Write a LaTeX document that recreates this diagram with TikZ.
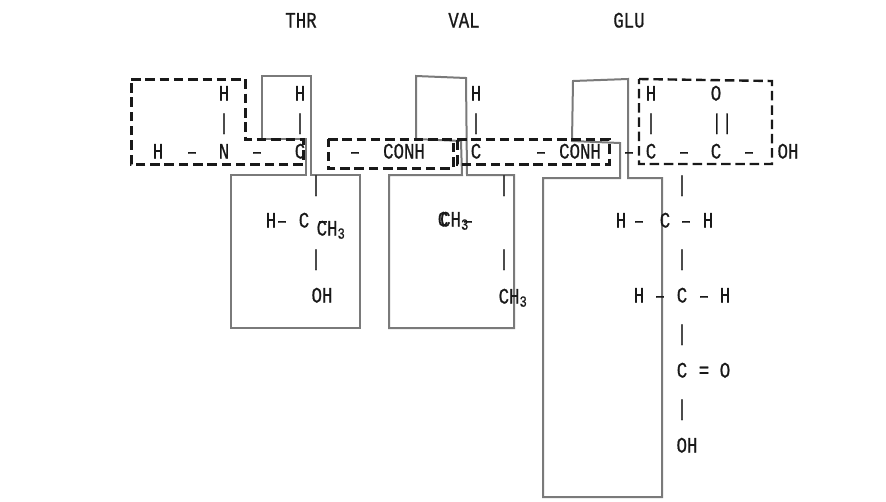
\documentclass[tikz,border=0pt]{standalone}
\usepackage{fontspec}
\setmainfont[FakeStretch=0.79,FakeBold=0.7]{Liberation Mono}
\tikzset{
  outline/.style={draw=black!52,line width=2pt,line join=miter},
  dashbox/.style={draw=black!90,line width=2.4pt,dash pattern=on 9.5pt off 4.8pt},
  lbl/.style={anchor=base,inner sep=0pt,outer sep=0pt,yshift=-7.5pt,font=\fontsize{22}{24}\selectfont,text=black!90}
}
\newcommand{\lab}[4]{\node[lbl] (#1) at (#2,#3) {#4};}
\begin{document}
\begin{tikzpicture}[x=1pt,y=-1pt]
\useasboundingbox (0,0) rectangle (886,501);
\fill[white] (0,0) rectangle (886,501);
% grey residue outlines
\draw[outline] (231,175) -- (306,175) -- (306,139) -- (262,139) -- (262,76) -- (311,76) -- (311,175) -- (360,175) -- (360,328) -- (231,328) -- cycle;
\draw[outline] (389,175) -- (462,175) -- (461,141) -- (416,139) -- (416,76) -- (466,78) -- (467,175) -- (514,175) -- (514,328) -- (389,328) -- cycle;
\draw[outline] (543,178) -- (620,178) -- (620,143) -- (572,141) -- (573,81) -- (628,79) -- (628,178) -- (662,178) -- (662,497) -- (543,497) -- cycle;
% dashed boxes
\draw[dashbox,line width=3pt] (131,79) -- (245,79) -- (245,139) -- (303,139) -- (303,164) -- (131,164) -- cycle;
\draw[dashbox,line width=3pt] (328,139) -- (453,139) -- (453,168) -- (328,168) -- cycle;
\draw[dashbox,line width=3pt] (457,139) -- (609,139) -- (609,164) -- (457,164) -- cycle;
\draw[dashbox] (639,79) -- (772,81) -- (772,164) -- (639,164) -- cycle;
% titles
\lab{thr}{301}{20}{THR}
\lab{val}{464}{20}{VAL}
\lab{glu}{629}{20}{GLU}
% top rows
\lab{ha}{224}{93}{H}
\lab{hb}{300}{93}{H}
\lab{hc}{476}{93}{H}
\lab{hd}{651}{93}{H}
\lab{oa}{716}{93}{O}
\lab{ba}{224}{122}{|}
\lab{bb}{300}{122}{|}
\lab{bc}{476}{122}{|}
\lab{bd}{651}{122}{|}
\lab{be}{722}{122}{||}
% backbone
\lab{he}{158}{151}{H}
\lab{da}{192}{151}{–}
\lab{na}{224}{151}{N}
\lab{db}{257}{151}{–}
\lab{ca}{300}{151}{C}
\lab{dc}{355}{151}{–}
\lab{coa}{404}{151}{CONH}
\lab{cb}{476}{151}{C}
\lab{dd}{541}{151}{–}
\lab{cob}{580}{151}{CONH}
\lab{de}{629}{151}{–}
\lab{cc}{651}{151}{C}
\lab{df}{684}{151}{–}
\lab{cd}{716}{151}{C}
\lab{dg}{749}{151}{–}
\lab{oh}{788}{151}{OH}
% THR side chain
\lab{bf}{316}{184}{|}
\lab{hf}{271}{220}{H}
\lab{dh}{282}{220}{–}
\lab{ce}{304}{220}{C}
\lab{di}{323}{220}{–}
\lab{cha}{331}{228}{CH\textsubscript{3}}
\lab{bg}{316}{258}{|}
\lab{ohb}{322}{295}{OH}
% VAL side chain
\lab{bh}{504}{184}{|}
\lab{cf}{443}{219}{C}
\lab{chb}{454.5}{219}{CH\textsubscript{3}}
\lab{dj}{468}{220}{–}
\lab{bi}{504}{258}{|}
\lab{chc}{513}{296}{CH\textsubscript{3}}
% GLU side chain
\lab{bj}{682}{184}{|}
\lab{hg}{621}{220}{H}
\lab{dk}{639}{220}{–}
\lab{cg}{665}{220}{C}
\lab{dl}{686}{220}{–}
\lab{hh}{708}{220}{H}
\lab{bk}{682}{258}{|}
\lab{hi}{639}{295}{H}
\lab{dm}{660}{295}{–}
\lab{ch}{682}{295}{C}
\lab{dn}{704}{295}{–}
\lab{hj}{725}{295}{H}
\lab{bl}{682}{333}{|}
\lab{ci}{682}{370}{C}
\lab{eq}{704}{370}{=}
\lab{ob}{725}{370}{O}
\lab{bm}{682}{408}{|}
\lab{ohc}{687}{445}{OH}
\end{tikzpicture}
\end{document}
